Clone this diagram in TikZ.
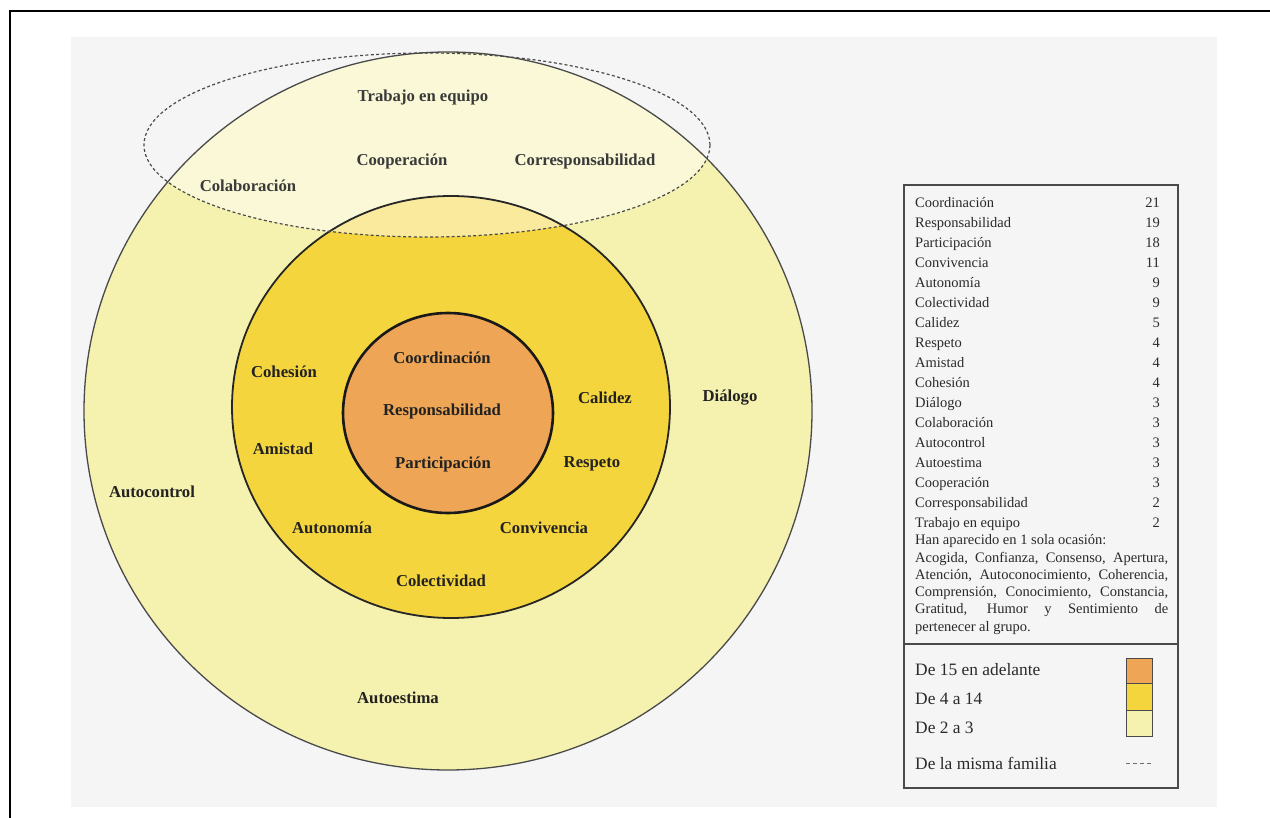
\documentclass[tikz,border=0pt]{standalone}
\usepackage{fontspec}
\setmainfont{Liberation Serif}
\definecolor{pagebg}{HTML}{F5F5F6}
\definecolor{paleY}{HTML}{F5F2B0}
\definecolor{midY}{HTML}{F4D53E}
\definecolor{innerO}{HTML}{EEA555}
\definecolor{labc}{HTML}{222222}
\definecolor{toplabc}{HTML}{3A3A3A}
\definecolor{legc}{HTML}{2A2A2A}
\definecolor{linec}{HTML}{4A4A4A}
\begin{document}
\begin{tikzpicture}[x=1pt,y=-1pt,
  lbl/.style={font=\bfseries\fontsize{16.7}{19}\selectfont, text=labc, inner sep=0pt},
  toplbl/.style={lbl, text=toplabc},
  legrow/.style={font=\fontsize{14.5}{17.3}\selectfont, text=legc, inner sep=0pt},
  legbig/.style={font=\fontsize{17.4}{20}\selectfont, text=legc, inner sep=0pt, anchor=base west},
  swatch/.style={draw=linec, line width=1pt}
]
\useasboundingbox (0,0) rectangle (1270,818);
% scanned page
\fill[white] (0,0) rectangle (1270,818);
\fill[pagebg] (71,37) rectangle (1217,807);
% frame (top and left)
\draw[line width=2.2pt, line cap=rect] (10,818) -- (10,11) -- (1270,11);

% circles
\coordinate (c) at (448,411);
\coordinate (m) at (451,407);
\coordinate (i) at (448,413);
\fill[paleY] (c) ellipse[x radius=364pt, y radius=359pt];
\fill[midY] (m) ellipse[x radius=219pt, y radius=211pt];
% family ellipse overlay
\coordinate (e) at (427,145);
\begin{scope}
  \clip (c) ellipse[x radius=364pt, y radius=359pt];
  \fill[white, opacity=0.5] (e) ellipse[x radius=283pt, y radius=92pt];
\end{scope}
\fill[innerO] (i) ellipse[x radius=105pt, y radius=100pt];
\draw[linec, line width=1.3pt] (c) ellipse[x radius=364pt, y radius=359pt];
\draw[black!85, line width=1.8pt] (m) ellipse[x radius=219pt, y radius=211pt];
\draw[black!90, line width=2.6pt] (i) ellipse[x radius=105pt, y radius=100pt];
\draw[linec, line width=1.2pt, dash pattern=on 3pt off 2.4pt] (e) ellipse[x radius=283pt, y radius=92pt];

% labels
\node[toplbl] (trabajo) at (423,97) {Trabajo en equipo};
\node[toplbl] (cooper) at (402,161) {Cooperación};
\node[toplbl] (corresp) at (585,161) {Corresponsabilidad};
\node[toplbl] (colab) at (248,186) {Colaboración};
\node[lbl] (cohesion) at (284,372) {Cohesión};
\node[lbl] (coord) at (442,358) {Coordinación};
\node[lbl] (respons) at (442,411) {Responsabilidad};
\node[lbl] (particip) at (443,464) {Participación};
\node[lbl] (calidez) at (605,398) {Calidez};
\node[lbl] (amistad) at (283,449) {Amistad};
\node[lbl] (respeto) at (592,464) {Respeto};
\node[lbl] (dialogo) at (730,398) {Diálogo};
\node[lbl] (autocontrol) at (152,492) {Autocontrol};
\node[lbl] (autonomia) at (332,528) {Autonomía};
\node[lbl] (convivencia) at (544,528) {Convivencia};
\node[lbl] (colectividad) at (441,581) {Colectividad};
\node[lbl] (autoestima) at (398,698) {Autoestima};

% legend box
\draw[linec, line width=1.3pt] (904,185) rectangle (1178,788);
\draw[linec, line width=1.3pt] (904,644) -- (1178,644);
\foreach \t/\n [count=\i] in {Coordinación/21, Responsabilidad/19, Participación/18,
  Convivencia/11, Autonomía/9, Colectividad/9, Calidez/5, Respeto/4, Amistad/4,
  Cohesión/4, Diálogo/3, Colaboración/3, Autocontrol/3, Autoestima/3, Cooperación/3,
  Corresponsabilidad/2, Trabajo en equipo/2}{
  \node[legrow, anchor=base west] (lt\i) at (915,{208+19.95*(\i-1)}) {\t};
  \node[legrow, anchor=base east] (ln\i) at (1160,{208+19.95*(\i-1)}) {\n};
}
\node[legrow, anchor=north west, text width=253pt, align=justify] (par) at (915,534.5)
 {Han aparecido en 1 sola ocasión:\\
  Acogida, Confianza, Consenso, Apertura,\linebreak
  Atención, Autoconocimiento, Coherencia,\linebreak
  Comprensión, Conocimiento, Constancia,\linebreak
  Gratitud, Humor y Sentimiento de\linebreak
  pertenecer al grupo.};

\node[legbig] (l15) at (915,675) {De 15 en adelante};
\node[legbig] (l4) at (915,704) {De 4 a 14};
\node[legbig] (l2) at (915,733) {De 2 a 3};
\node[legbig] (lfam) at (915,769) {De la misma familia};
\fill[innerO] (1126,658) rectangle (1152,683);
\fill[midY] (1126,683) rectangle (1152,710);
\fill[paleY] (1126,710) rectangle (1152,736);
\draw[swatch] (1126,658) rectangle (1152,736);
\draw[swatch] (1126,683) -- (1152,683);
\draw[swatch] (1126,710) -- (1152,710);
\coordinate (d1) at (1126,763);
\coordinate (d2) at (1153,763);
\draw[linec!80, line width=1pt, dash pattern=on 4pt off 3pt] (d1) -- (d2);
\end{tikzpicture}
\end{document}
